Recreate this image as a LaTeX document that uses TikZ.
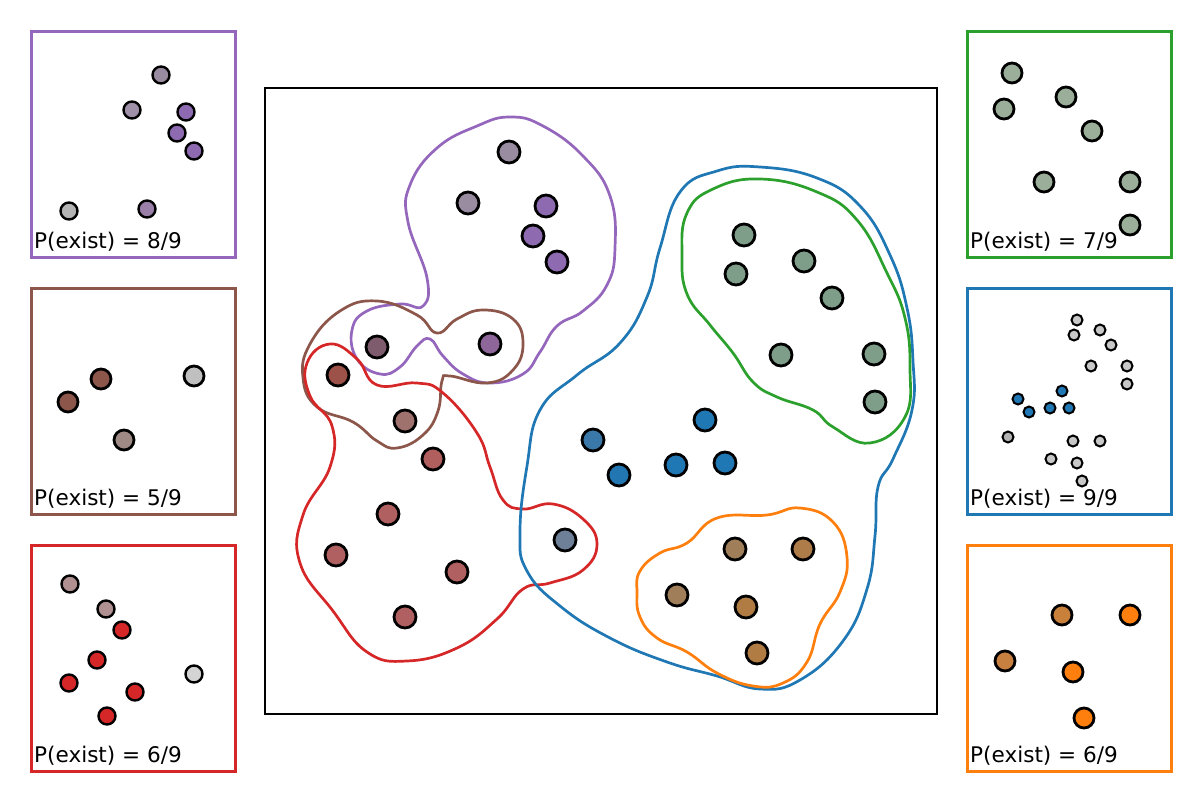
\documentclass[tikz,border=0pt]{standalone}
\usepackage{fontspec}
\setmainfont{DejaVu Sans}
\begin{document}
\definecolor{tpurple}{HTML}{9467BD}
\definecolor{tbrown}{HTML}{8C564B}
\definecolor{tred}{HTML}{D62728}
\definecolor{tgreen}{HTML}{2CA02C}
\definecolor{tblue}{HTML}{1F77B4}
\definecolor{torange}{HTML}{FF7F0E}
\begin{tikzpicture}[x=1pt,y=-1pt,
  pt/.style={circle,draw=black,line width=2.8pt,minimum size=22pt,inner sep=0pt},
  spt/.style={pt,minimum size=17pt,line width=2.4pt},
  xpt/.style={pt,minimum size=11pt,line width=2pt},
  cont/.style={line width=2.7pt},
  panel/.style={line width=2.7pt},
  lab/.style={anchor=base west,inner sep=0pt,font=\fontsize{14}{16}\selectfont}]
\newcommand\plab[1]{\scalebox{1.54}{#1}}
\useasboundingbox (0,0) rectangle (1200,800);
\node[draw=black,line width=2pt,minimum width=672pt,minimum height=626pt,anchor=north west,inner sep=0pt] (main) at (264,87) {};
% contours
\draw[cont,tpurple] plot[smooth cycle,tension=0.75] coordinates {(423,306)(427,278)(408,222)(410,185)(437,148)(477,126)(510,117)(543,126)(583,156)(610,196)(615,248)(607,285)(583,311)(557,326)(540,352)(523,374)(490,383)(463,374)(443,356)(430,339)(417,346)(400,367)(380,374)(357,359)(352,330)(367,311)(400,304)};
\draw[cont,tbrown] plot[smooth cycle,tension=0.75] coordinates {(437,333)(417,315)(377,301)(340,311)(310,344)(303,378)(317,407)(353,422)(377,441)(397,448)(423,435)(438,411)(442,381)(450,376)(487,383)(513,370)(523,344)(513,319)(483,310)(457,319)};
\draw[cont,tred] plot[smooth cycle,tension=0.75] coordinates {(330,344)(357,359)(377,385)(417,383)(443,393)(477,433)(490,467)(503,500)(523,509)(553,504)(583,519)(597,544)(583,570)(550,583)(523,589)(497,619)(457,648)(407,661)(367,652)(333,611)(300,563)(303,515)(330,467)(332,426)(310,396)(307,363)};
\draw[cont,tblue] plot[smooth cycle,tension=0.75] coordinates {(520,532)(527,466)(540,410)(577,375)(620,343)(647,297)(660,248)(680,192)(717,171)(760,167)(817,178)(860,206)(890,255)(907,308)(913,361)(912,410)(893,459)(878,487)(875,536)(867,589)(843,641)(800,680)(760,689)(717,676)(667,662)(610,638)(560,606)(527,571)};
\draw[cont,tgreen] plot[smooth cycle,tension=0.75] coordinates {(687,213)(713,189)(760,179)(817,192)(857,220)(887,273)(905,318)(910,368)(905,417)(870,443)(833,427)(813,410)(777,397)(753,382)(733,353)(710,325)(687,294)(682,255)};
\draw[cont,torange] plot[smooth cycle,tension=0.75] coordinates {(640,571)(660,553)(687,543)(717,518)(767,515)(800,508)(833,522)(847,557)(840,592)(820,624)(807,662)(783,683)(753,686)(717,673)(687,652)(657,638)(640,617)(637,592)};
% main points
\foreach \x/\y/\c [count=\i] in {
 509/152/9A8CA0, 468/203/9A8CA0, 546/206/8E6BB0, 533/236/8E6BB0, 557/262/8E6BB0,
 377/347/7E5C6E, 490/344/8E6699, 338/375/9C5248, 405/421/A0726E,
 433/459/B05E5E, 388/514/B06060, 336/555/B06060, 457/572/B06060, 405/617/B06060,
 565/540/6E8098,
 593/440/3978A8, 619/475/2277B2, 676/465/1F77B4, 705/420/1F77B4, 725/463/1F77B4,
 744/235/7E9E8A, 736/274/7E9E8A, 804/261/7E9E8A, 832/298/7E9E8A, 781/355/7E9E8A, 874/354/7E9E8A, 875/402/7E9E8A,
 735/549/A07E5A, 803/549/AE7C48, 677/595/A07E5A, 746/607/B07C44, 757/653/B07C44}
 {\definecolor{cc}{HTML}{\c}\node[pt,fill=cc] (m\i) at (\x,\y) {};}
% panels
\node[draw=tpurple,panel,minimum width=204pt,minimum height=226pt,anchor=north west,inner sep=0pt] (p1) at (30,30) {};
\node[draw=tbrown,panel,minimum width=204pt,minimum height=226pt,anchor=north west,inner sep=0pt] (p2) at (30,287) {};
\node[draw=tred,panel,minimum width=204pt,minimum height=226pt,anchor=north west,inner sep=0pt] (p3) at (30,544) {};
\node[draw=tgreen,panel,minimum width=204pt,minimum height=226pt,anchor=north west,inner sep=0pt] (p4) at (966,30) {};
\node[draw=tblue,panel,minimum width=204pt,minimum height=226pt,anchor=north west,inner sep=0pt] (p5) at (966,287) {};
\node[draw=torange,panel,minimum width=204pt,minimum height=226pt,anchor=north west,inner sep=0pt] (p6) at (966,544) {};
\node[lab] (l1) at (34,248) {\plab{P(exist) = 8/9}};
\node[lab] (l2) at (34,505) {\plab{P(exist) = 5/9}};
\node[lab] (l3) at (34,762) {\plab{P(exist) = 6/9}};
\node[lab] (l4) at (970,248) {\plab{P(exist) = 7/9}};
\node[lab] (l5) at (970,505) {\plab{P(exist) = 9/9}};
\node[lab] (l6) at (970,762) {\plab{P(exist) = 6/9}};
% panel points
\foreach \x/\y/\c [count=\i] in {
 161/75/9A8CA0, 132/110/A090A8, 186/112/8E6BB0, 177/133/8E6BB0, 194/151/8E6BB0, 69/211/B4B4B4, 147/209/9A80A8,
 70/584/B09090, 106/609/B09090, 122/630/D62728, 97/660/D62728, 69/683/D62728, 135/692/D62728, 107/716/D62728, 194/674/D4D4D4}
 {\definecolor{cc}{HTML}{\c}\node[spt,fill=cc] (s\i) at (\x,\y) {};}
\foreach \x/\y/\c [count=\i] in {
 101/379/8C564B, 68/402/8C564B, 194/376/C0C0C0, 124/440/A08A85,
 1012/73/9AAE9A, 1004/109/9AAE9A, 1066/97/9AAE9A, 1092/131/9AAE9A, 1044/182/9AAE9A, 1130/182/9AAE9A, 1130/225/9AAE9A,
 1062/615/C8803A, 1130/615/FF7F0E, 1005/661/C88040, 1073/672/FF7F0E, 1084/718/FF7F0E}
 {\definecolor{cc}{HTML}{\c}\node[pt,minimum size=20pt,fill=cc] (b\i) at (\x,\y) {};}
\foreach \x/\y/\c [count=\i] in {
 1077/320/C8C8C8, 1100/330/C8C8C8, 1074/335/C8C8C8, 1111/345/C8C8C8, 1091/366/C8C8C8, 1127/366/C8C8C8, 1127/384/C8C8C8,
 1008/437/B4B4B4, 1073/441/C8C8C8, 1100/441/C8C8C8, 1051/459/C8C8C8, 1077/463/C8C8C8, 1082/481/C8C8C8,
 1062/391/1F77B4, 1018/399/1F77B4, 1029/412/1F77B4, 1050/408/1F77B4, 1069/408/1F77B4}
 {\definecolor{cc}{HTML}{\c}\node[xpt,fill=cc] (x\i) at (\x,\y) {};}
\end{tikzpicture}
\end{document}
